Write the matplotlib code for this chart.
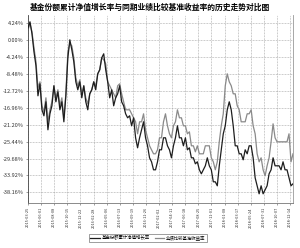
import matplotlib
matplotlib.use("Agg")
import matplotlib.pyplot as plt
import pandas as pd

plt.rcParams['font.family'] = ['Noto Sans CJK SC', 'DejaVu Sans']

title = "基金份额累计净值增长率与同期业绩比较基准收益率的历史走势对比图"
series_names = ["基金份额累计净值增长率", "业绩比较基准收益率"]
start_date = "2015-03-25"
end_date = "2018-12-29"

fund = [3.0, 4.5, 1.5, -3.0, -6.5, -14.0, -11.0, -17.5, -19.0, -15.5,
        -22.5, -18.5, -16.5, -11.5, -15.5, -13.0, -17.5, -15.5, -20.5, -14.0,
        -4.5, 0.0, -2.5, -5.5, -10.5, -12.5, -10.5, -14.5, -11.5, -15.5,
        -17.5, -13.5, -12.5, -10.5, -12.5, -8.5, -7.5, -4.5, -3.5, -7.5,
        -10.5, -14.5, -12.5, -16.5, -14.5, -13.5, -11.5, -15.5, -16.5, -18.5,
        -19.5, -19.0, -21.5, -19.5, -24.5, -27.0, -24.5, -22.5, -20.5, -24.5,
        -26.5, -29.5, -30.5, -32.5, -32.5, -30.5, -27.5, -27.5, -24.5, -24.5,
        -26.5, -27.5, -29.5, -26.5, -24.5, -21.5, -24.5, -24.5, -26.5, -24.5,
        -27.5, -27.0, -29.5, -29.5, -31.0, -30.5, -32.5, -33.5, -32.5, -31.5,
        -29.5, -31.5, -32.5, -35.5, -35.5, -36.5, -31.5, -27.5, -23.5, -21.5,
        -17.5, -15.5, -17.5, -21.5, -26.5, -26.5, -28.5, -28.5, -30.0, -27.5,
        -28.5, -26.5, -26.5, -29.5, -34.5, -36.5, -38.5, -36.5, -38.5, -37.5,
        -36.5, -33.5, -32.5, -29.5, -31.5, -31.5, -31.5, -32.5, -30.5, -32.5,
        -32.5, -34.5, -36.5, -36.0]

bench = [2.5, 4.0, 2.0, -2.0, -5.5, -12.0, -10.5, -16.5, -18.0, -14.5,
         -20.5, -17.5, -15.5, -11.5, -14.5, -12.5, -16.5, -14.5, -19.5, -13.5,
         -3.0, -1.0, -1.5, -4.5, -9.5, -11.5, -10.0, -13.5, -11.5, -14.5,
         -16.0, -13.5, -12.5, -10.5, -11.5, -8.5, -7.5, -4.5, -5.0, -6.0,
         -10.5, -11.5, -12.5, -13.5, -14.5, -11.5, -11.0, -13.5, -15.5, -17.5,
         -17.5, -17.5, -18.5, -19.5, -20.5, -23.5, -20.5, -20.5, -18.5, -22.5,
         -24.5, -26.5, -27.5, -28.5, -28.5, -27.5, -24.5, -24.5, -20.5, -18.5,
         -21.5, -23.5, -24.5, -21.5, -20.5, -17.5, -19.5, -19.5, -21.5, -21.5,
         -23.5, -23.0, -26.5, -26.5, -28.0, -26.5, -28.5, -28.5, -28.5, -26.5,
         -26.5, -26.5, -29.5, -30.5, -32.5, -30.5, -25.5, -21.5, -18.5, -11.5,
         -8.5, -10.5, -11.5, -13.5, -13.5, -16.5, -17.5, -20.5, -20.5, -20.5,
         -18.5, -18.5, -17.5, -21.5, -23.5, -28.5, -30.5, -29.5, -32.5, -34.0,
         -31.5, -29.5, -25.5, -21.0, -24.5, -25.5, -25.5, -25.5, -25.5, -25.5,
         -25.5, -23.5, -30.5, -28.5]

x_tick_labels = ["2015-03-25", "2015-06-01", "2015-08-08", "2015-10-15", "2015-12-22",
                 "2016-02-28", "2016-05-06", "2016-07-13", "2016-09-19", "2016-11-26",
                 "2017-02-02", "2017-04-11", "2017-06-18", "2017-08-25", "2017-11-01",
                 "2018-01-08", "2018-03-17", "2018-05-24", "2018-07-31", "2018-10-07",
                 "2018-12-14"]
y_ticks = [4.24, 0.00, -4.24, -8.48, -12.72, -16.96, -21.20, -25.44, -29.68, -33.92, -38.16]
y_tick_labels = ["4.24%", "0.00%", "-4.24%", "-8.48%", "-12.72%", "-16.96%",
                 "-21.20%", "-25.44%", "-29.68%", "-33.92%", "-38.16%"]

dates = pd.date_range(start_date, end_date, periods=len(fund))
tick_dates = pd.to_datetime(x_tick_labels)

fig = plt.figure(figsize=(3.0, 2.48), dpi=100)
ax = fig.add_axes([28/300, 1-203/248, 265/300, 188/248])

ax.plot(dates, fund, color="#1e1e1e", lw=0.9, label=series_names[0], zorder=3)
ax.plot(dates, bench, color="#8a8a8a", lw=0.9, label=series_names[1], zorder=2)

ax.set_xlim(tick_dates[0], pd.Timestamp(end_date))
ax.set_ylim(-40.8, 6.2)
ax.set_yticks(y_ticks)
ax.set_yticklabels(y_tick_labels, fontsize=4, color="#333333")
ax.set_xticks(tick_dates)
ax.set_xticklabels(x_tick_labels, rotation=90, fontsize=2.8, color="#333333")
ax.tick_params(axis='both', length=1.5, width=0.4, pad=1.5, color="#555555")
ax.grid(True, color="#9a9a9a", linestyle=(0, (1, 1.2)), linewidth=0.5)
ax.spines["top"].set_visible(False)
ax.spines["left"].set_color("#444444")
ax.spines["bottom"].set_color("#777777")
ax.spines["right"].set_color("#999999")
for s in ["left", "bottom", "right"]:
    ax.spines[s].set_linewidth(0.6)

fig.text(0.5, 1-7/248, title, ha="center", va="center", fontsize=5.6, fontweight="bold")

leg = fig.legend(loc="center", bbox_to_anchor=(148/300, 1-238/248), ncol=2, fontsize=3.2,
                 frameon=True, fancybox=False, edgecolor="#555555", handlelength=2.2,
                 handletextpad=0.4, columnspacing=1.0, borderpad=0.4)
leg.get_frame().set_linewidth(0.5)

fig.savefig("out.png", dpi=100)
